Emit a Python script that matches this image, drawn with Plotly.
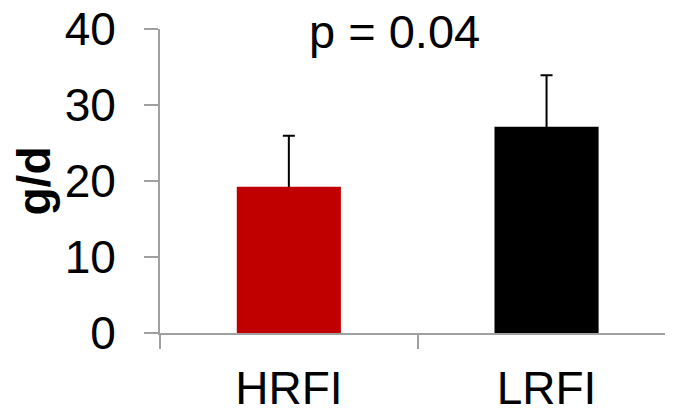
import plotly.graph_objects as go

categories = ["HRFI", "LRFI"]
values = [19.25, 27.15]
errors = [6.7, 6.75]
bar_colors = ["#C00000", "#000000"]
y_ticks = [0, 10, 20, 30, 40]

AX = "#A0A0A0"
FONT = "Liberation Sans, Arial, sans-serif"
FS = 46

fig = go.Figure()
# whiskers (lower part hidden beneath the visible bars drawn afterwards)
fig.add_trace(go.Bar(
    x=categories, y=values,
    marker=dict(color="rgba(0,0,0,0)", line=dict(width=0)),
    width=0.404, hoverinfo="skip",
    error_y=dict(type="data", symmetric=False, array=errors, arrayminus=[0.6, 0.6],
                 color="#000000", thickness=2, width=6),
))
fig.add_trace(go.Bar(
    x=categories, y=values,
    marker=dict(color=bar_colors, line=dict(width=0)),
    width=0.404,
))

fig.add_annotation(
    x=0.458, xref="paper", y=39.7, yref="y", yanchor="middle",
    text="p = 0.04", showarrow=False,
    font=dict(family=FONT, size=47, color="#000000"),
)

# page body adds an 8px offset at top/left, so the figure is 8px smaller
fig.update_layout(
    width=665, height=400,
    margin=dict(l=152, r=0, t=21, b=75, autoexpand=False),
    paper_bgcolor="white", plot_bgcolor="white",
    showlegend=False, barmode="overlay",
    font=dict(family=FONT, size=FS, color="#000000"),
    xaxis=dict(
        type="category", range=[-0.5, 1.4907], automargin=False,
        showline=True, linecolor=AX, linewidth=2,
        ticks="outside", tickson="boundaries", ticklen=14, tickwidth=2, tickcolor=AX,
        showgrid=False, zeroline=False,
        tickfont=dict(family=FONT, size=FS, color="#000000"),
        ticklabelstandoff=14, ticklabeloverflow="allow",
    ),
    yaxis=dict(
        range=[0, 40], tickvals=y_ticks, automargin=False,
        showline=True, linecolor=AX, linewidth=2,
        ticks="outside", ticklen=14, tickwidth=2, tickcolor=AX,
        showgrid=False, zeroline=False,
        tickfont=dict(family=FONT, size=FS, color="#000000"),
        ticklabelstandoff=19, ticklabeloverflow="allow",
        title=dict(text="<b>g/d</b>", font=dict(family=FONT, size=FS, color="#000000"), standoff=6),
    ),
)

fig.write_html("out.html")
